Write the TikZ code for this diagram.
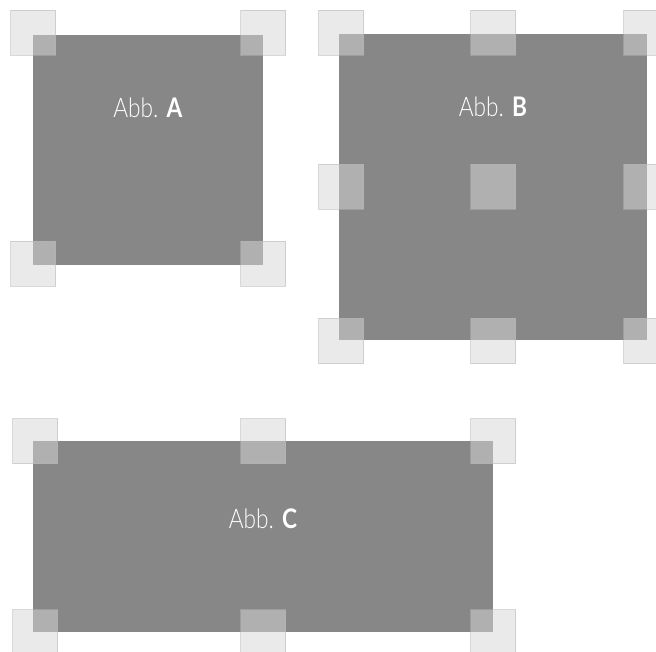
\documentclass[tikz,border=0pt]{standalone}
\usepackage{fontspec}
\setmainfont{Lato}[UprightFont=* Light, BoldFont=* Bold, FakeStretch=0.84]
\definecolor{panel}{RGB}{135,135,135}
\definecolor{sqfill}{RGB}{214,214,214}
\definecolor{sqdraw}{RGB}{180,180,180}
\tikzset{
  panelbox/.style={fill=panel, draw=none},
  handle/.style={draw=sqdraw, fill=sqfill, fill opacity=0.52, draw opacity=0.52, line width=0.9pt, minimum size=45pt, inner sep=0pt, anchor=center},
  lbl/.style={text=white, font=\fontsize{27}{30}\selectfont, inner sep=0pt}
}
\begin{document}
\begin{tikzpicture}[x=1pt,y=-1pt]
\useasboundingbox (0,0) rectangle (656,652);
\begin{scope}
\clip (0,0) rectangle (656,652);
% Panel A
\path[panelbox] (33,35) rectangle (263,265);
\node[lbl] (la) at (148,108) {Abb. \textbf{A}};
\foreach \x/\y [count=\i] in {33/33, 263/33, 33/264, 263/264}
  \node[handle] (ha\i) at (\x,\y) {};
% Panel B
\path[panelbox] (339,34) rectangle (647,340);
\node[lbl] (lb) at (493,107) {Abb. \textbf{B}};
\foreach \x/\y [count=\i] in {341/33, 493/33, 646/33, 341/187, 493/187, 646/187, 341/341, 493/341, 646/341}
  \node[handle] (hb\i) at (\x,\y) {};
% Panel C
\path[panelbox] (33,441) rectangle (493,632);
\node[lbl] (lc) at (263,519) {Abb. \textbf{C}};
\foreach \x/\y [count=\i] in {35/441, 263/441, 493/441, 35/632, 263/632, 493/632}
  \node[handle] (hc\i) at (\x,\y) {};
\end{scope}
\end{tikzpicture}
\end{document}
